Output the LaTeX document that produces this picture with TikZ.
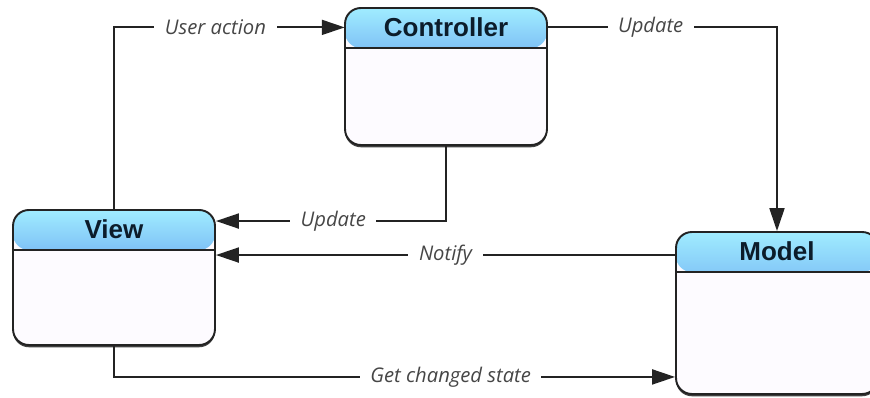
\documentclass[tikz,border=0pt]{standalone}
\usepackage{fontspec}
\setmainfont{Liberation Sans}
\newfontfamily\etiq{Open Sans}
\usepackage{tikz}
\usetikzlibrary{shapes.geometric, arrows.meta, positioning, shadows}

\definecolor{cabeza1}{RGB}{160,236,255}
\definecolor{cabeza2}{RGB}{60,108,228}
\definecolor{borde}{RGB}{35,35,35}
\definecolor{cuerpo}{RGB}{253,251,255}
\definecolor{gris}{RGB}{70,70,70}
\definecolor{tinta}{RGB}{12,28,42}

\tikzstyle{caja} = [draw=borde, line width=1.1pt, rounded corners=9pt, fill=cuerpo,
	minimum width=4.04cm,
	drop shadow={shadow xshift=0pt, shadow yshift=-1.3pt, opacity=0.75, fill=black},
	path picture={
		\path[shading=axis, shading angle=0, top color=cabeza1, bottom color=cabeza2, middle color=cabeza1!45!cabeza2]
			([yshift=-0.8cm]path picture bounding box.north west) rectangle (path picture bounding box.north east);
		\draw[borde, line width=0.8pt] ([yshift=-0.8cm]path picture bounding box.north west) -- ([yshift=-0.8cm]path picture bounding box.north east);
	}]
\tikzstyle{titulo} = [anchor=north, minimum width=4.04cm, minimum height=0.8cm, inner sep=0pt, text=tinta, font=\fontsize{14.8}{16}\selectfont\bfseries]
\tikzstyle{line} = [draw=borde, line width=1.1pt, -{Triangle[length=13pt, width=8.5pt]}]
\tikzstyle{lbl} = [fill=white, text=gris, inner xsep=6pt, font=\etiq\fontsize{11.5}{13}\selectfont\itshape]

\begin{document}
\begin{tikzpicture}[x=0.02cm, y=-0.02cm]
	\useasboundingbox (0,0) rectangle (870,398);

	% Cajas
	\node[caja, minimum height=2.74cm] (ctrl) at (446,76.5) {};
	\node[caja, minimum height=2.70cm] (view) at (114,277.5) {};
	\node[caja, minimum height=3.24cm] (model) at (777,313) {};

	% Titulos
	\node[titulo] (ctrl-t) at (ctrl.north) {Controller};
	\node[titulo] (view-t) at (view.north) {View};
	\node[titulo] (model-t) at (model.north) {Model};

	% Flechas entre cajas
	\path [line] (view.north) |- node[lbl, pos=0.72] {User action} (ctrl-t.west);
	\path [line] (ctrl-t.east) -| node[lbl, pos=0.225] {Update} (model.north);
	\path [line] (ctrl.south) |- node[lbl, pos=0.745] {Update} ([yshift=-0.24cm]view.north east);

	\coordinate (notif) at ([yshift=-0.48cm]model.north west);
	\path [line] (notif) -- node[lbl] {Notify} (notif -| view.east);

	\path [line] (view.south) |- node[lbl, pos=0.8] {Get changed state} ([yshift=0.36cm]model.south west);
\end{tikzpicture}
\end{document}
